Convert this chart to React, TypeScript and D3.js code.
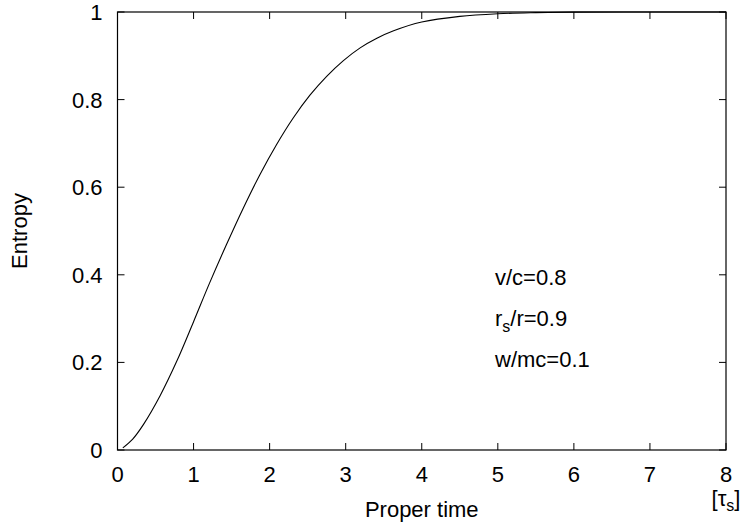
import React, { useEffect, useRef } from 'react'
import * as d3 from 'd3'

// values
const properTime = [0.07, 0.2, 0.34, 0.56, 0.78, 1.0, 1.21, 1.43, 1.65, 1.87, 2.09, 2.31, 2.53, 2.75, 2.97, 3.19, 3.41, 3.63, 4.0, 4.5, 5.0, 5.5, 6.0, 7.0, 8.0]
const entropy = [0.005, 0.025, 0.058, 0.124, 0.203, 0.293, 0.381, 0.468, 0.551, 0.628, 0.697, 0.758, 0.810, 0.853, 0.889, 0.918, 0.940, 0.957, 0.977, 0.990, 0.996, 0.9985, 0.9997, 1.0, 1.0]

const xTicks = [0, 1, 2, 3, 4, 5, 6, 7, 8]
const yTicks = [0, 0.2, 0.4, 0.6, 0.8, 1]
const notes = ['v/c=0.8', 'r_s/r=0.9', 'w/mc=0.1']

const W = 743
const H = 524
const margin = { top: 12, right: 17, bottom: 74, left: 117.5 }
const font = 'Liberation Sans, Arial, sans-serif'
const fs = '22px'
const subFs = '16px'

export default function App() {
  const svgRef = useRef<SVGSVGElement>(null)

  useEffect(() => {
    if (!svgRef.current) return
    const svg = d3.select(svgRef.current)
    svg.selectAll('*').remove()

    const x = d3.scaleLinear().domain([0, 8]).range([margin.left, W - margin.right])
    const y = d3.scaleLinear().domain([0, 1]).range([H - margin.bottom, margin.top])
    const tl = 7

    const g = svg.append('g')

    // curve
    const pts = properTime.map((t, i) => [t, entropy[i]] as [number, number])
    g.append('path')
      .datum(pts)
      .attr('d', d3.line<[number, number]>().x(d => x(d[0])).y(d => y(d[1])).curve(d3.curveCatmullRom.alpha(0.5)))
      .attr('fill', 'none')
      .attr('stroke', '#000')
      .attr('stroke-width', 1.1)

    // ticks on all four sides, pointing in
    xTicks.forEach(t => {
      g.append('line').attr('x1', x(t)).attr('x2', x(t)).attr('y1', y(0)).attr('y2', y(0) - tl).attr('stroke', '#000')
      g.append('line').attr('x1', x(t)).attr('x2', x(t)).attr('y1', y(1)).attr('y2', y(1) + tl).attr('stroke', '#000')
      g.append('text')
        .attr('x', x(t)).attr('y', y(0) + 32)
        .attr('text-anchor', 'middle')
        .style('font-family', font).style('font-size', fs)
        .text(t)
    })
    yTicks.forEach(t => {
      g.append('line').attr('x1', x(0)).attr('x2', x(0) + tl).attr('y1', y(t)).attr('y2', y(t)).attr('stroke', '#000')
      g.append('line').attr('x1', x(8)).attr('x2', x(8) - tl).attr('y1', y(t)).attr('y2', y(t)).attr('stroke', '#000')
      g.append('text')
        .attr('x', x(0) - 15).attr('y', y(t) + 8)
        .attr('text-anchor', 'end')
        .style('font-family', font).style('font-size', fs)
        .text(t)
    })

    // frame
    g.append('rect')
      .attr('x', x(0)).attr('y', y(1))
      .attr('width', x(8) - x(0)).attr('height', y(0) - y(1))
      .attr('fill', 'none').attr('stroke', '#000').attr('stroke-width', 1.2)

    // axis labels
    g.append('text')
      .attr('x', (x(0) + x(8)) / 2).attr('y', 517)
      .attr('text-anchor', 'middle')
      .style('font-family', font).style('font-size', fs)
      .text('Proper time')

    g.append('text')
      .attr('transform', `translate(27,${(y(0) + y(1)) / 2}) rotate(-90)`)
      .attr('text-anchor', 'middle')
      .style('font-family', font).style('font-size', fs)
      .text('Entropy')

    const unit = g.append('text')
      .attr('x', x(8)).attr('y', 506)
      .attr('text-anchor', 'middle')
      .style('font-family', font).style('font-size', fs)
    unit.append('tspan').text('[τ')
    unit.append('tspan').attr('dy', 5).style('font-size', subFs).text('s')
    unit.append('tspan').attr('dy', -5).text(']')

    // parameter notes
    notes.forEach((n, i) => {
      const t = g.append('text')
        .attr('x', 495).attr('y', 285 + i * 41)
        .style('font-family', font).style('font-size', fs)
      const m = n.match(/^(\w)_(\w)(.*)$/)
      if (m) {
        t.append('tspan').text(m[1])
        t.append('tspan').attr('dy', 6).style('font-size', subFs).text(m[2])
        t.append('tspan').attr('dy', -6).text(m[3])
      } else {
        t.text(n)
      }
    })
  }, [])

  return (
    <svg
      ref={svgRef}
      width={W}
      height={H}
      style={{ position: 'absolute', left: 0, top: 0, background: '#fff' }}
    />
  )
}
